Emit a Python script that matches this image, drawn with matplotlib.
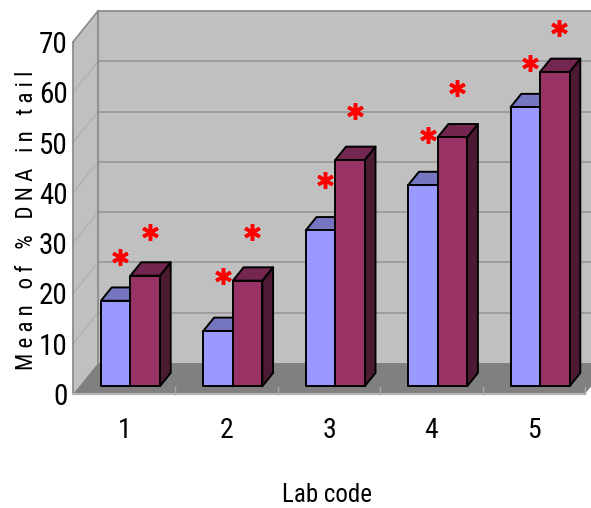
import matplotlib
matplotlib.use("Agg")
import matplotlib.pyplot as plt
from matplotlib.patches import Polygon

# ---- data ----
lab_codes = ["1", "2", "3", "4", "5"]
series_a = [17, 11, 31, 40, 55.5]        # light blue bars
series_b = [22, 21, 45, 49.5, 62.5]      # maroon bars
star_a = [25.8, 21.9, 41.0, 49.9, 64.2]  # asterisk heights above series A
star_b = [30.6, 30.6, 54.7, 59.4, 71.2]  # asterisk heights above series B
y_ticks = [0, 10, 20, 30, 40, 50, 60, 70]
y_label = "M e a n   o f   %   D N A   i n   t a i l"
x_label = "Lab code"

# ---- layout / style ----
W_IN, H_IN, DPI = 5.91, 5.08, 100
YMAX = 70
DX, DY = 0.244, 6.16          # oblique depth offset (data units) for full depth
F0, F1 = 0.25, 0.68           # bar front / back depth fraction
BW = 0.288                    # bar width in category units
FONT = ["Roboto Condensed", "Liberation Sans", "DejaVu Sans"]

COL_WALL = "#c0c0c0"
COL_FLOOR = "#808080"
COL_GRID = "#9a9a9a"
A_FRONT, A_TOP = "#9999ff", "#7575c0"
B_FRONT, B_TOP, B_SIDE = "#993366", "#73264f", "#4d1a33"


def P(x, v, d):
    """Oblique projection of (category x, value, depth) into axes data space."""
    return (x + d * DX, v + d * DY)


fig = plt.figure(figsize=(W_IN, H_IN), dpi=DPI)
ax = fig.add_axes([0, 0, 1, 1])
ax.set_xlim(-0.2129, 5.5586)
ax.set_ylim(-22.67, 78.35)
ax.axis("off")

n = len(lab_codes)
xl, xr = 0.5, n + 0.5

# walls and floor
ax.add_patch(Polygon([P(xl, 0, 1), P(xr + 1, 0, 1), P(xr + 1, YMAX, 1), P(xl, YMAX, 1)],
                     closed=True, fc=COL_WALL, ec="none", zorder=1))
ax.add_patch(Polygon([P(xl, 0, 0), P(xl, 0, 1), P(xl, YMAX, 1), P(xl, YMAX, 0)],
                     closed=True, fc=COL_WALL, ec="none", zorder=1))
ax.add_patch(Polygon([P(xl, 0, 0), P(xr, 0, 0), P(xr, 0, 1), P(xl, 0, 1)],
                     closed=True, fc=COL_FLOOR, ec="none", zorder=2))

# gridlines on back and side walls
for v in y_ticks[1:-1]:
    (x0, y0), (x1, y1) = P(xl, v, 1), P(xr + 1, v, 1)
    ax.plot([x0, x1], [y0, y1], color=COL_GRID, lw=1.3, zorder=1.5)
    (x0, y0), (x1, y1) = P(xl, v, 0), P(xl, v, 1)
    ax.plot([x0, x1], [y0, y1], color="#adadad", lw=0.8, zorder=1.5)

# frame edges
frame = [
    [P(xl, 0, 0), P(xl, YMAX, 0)],
    [P(xl, YMAX, 0), P(xl, YMAX, 1)],
    [P(xl, YMAX, 1), P(xr + 1, YMAX, 1)],
    [P(xl, 0, 1), P(xl, YMAX, 1)],
]
for seg in frame:
    ax.plot([seg[0][0], seg[1][0]], [seg[0][1], seg[1][1]], color="#8c8c8c", lw=1.3, zorder=1.6)
(x0, y0), (x1, y1) = P(xl, 0, 0), P(xr, 0, 0)
ax.plot([x0, x1], [y0, y1], color="#b4b4b4", lw=1.6, zorder=2.1)

# category boundary ticks on the floor edge
for b in range(1, n + 1):
    x0, y0 = P(b + 0.5, 0, 0)
    ax.plot([x0, x0], [y0, y0 + 1.4], color="#a8a8a8", lw=1.0, zorder=2.2)


def bar3d(x0, x1, v, front, top, side, z):
    kw = dict(closed=True, ec="black", lw=1.4, joinstyle="round", zorder=z)
    ax.add_patch(Polygon([P(x1, 0, F0), P(x1, 0, F1), P(x1, v, F1), P(x1, v, F0)], fc=side, **kw))
    ax.add_patch(Polygon([P(x0, v, F0), P(x1, v, F0), P(x1, v, F1), P(x0, v, F1)], fc=top, **kw))
    ax.add_patch(Polygon([P(x0, 0, F0), P(x1, 0, F0), P(x1, v, F0), P(x0, v, F0)], fc=front, **kw))


for i in range(n):
    c = i + 1
    bar3d(c - BW, c, series_a[i], A_FRONT, A_TOP, A_TOP, 3 + i * 0.1)
    bar3d(c, c + BW, series_b[i], B_FRONT, B_TOP, B_SIDE, 3.05 + i * 0.1)

# significance asterisks
sx, sy = [], []
for i in range(n):
    c = i + 1
    for xc, lev in ((c - BW / 2, star_a[i]), (c + BW / 2, star_b[i])):
        px, py = P(xc + 0.045, lev, F0)
        sx.append(px)
        sy.append(py)
ax.plot(sx, sy, ls="none", marker=(6, 2, 0), ms=12, mew=2.5, color="#ff0000", zorder=6)

# value axis labels
for v in y_ticks:
    x0, y0 = P(xl, v, 0)
    ax.annotate(str(v), (x0, y0), xytext=(-4, 0), textcoords="offset points",
                ha="right", va="center_baseline", fontsize=21, family=FONT, color="black")

# category labels
for i, lab in enumerate(lab_codes):
    x0, y0 = P(i + 1, 0, 0)
    ax.annotate(lab, (x0, y0), xytext=(0, -24), textcoords="offset points",
                ha="center", va="center_baseline", fontsize=20, family=FONT, color="black")

fig.text(327 / 591, 1 - 492 / 508, x_label, ha="center", va="center_baseline",
         fontsize=18, family=FONT)
fig.text(27 / 591, 1 - 220 / 508, y_label, ha="center", va="center", rotation=90,
         fontsize=16.5, family=FONT)

fig.savefig("out.png", dpi=DPI)
